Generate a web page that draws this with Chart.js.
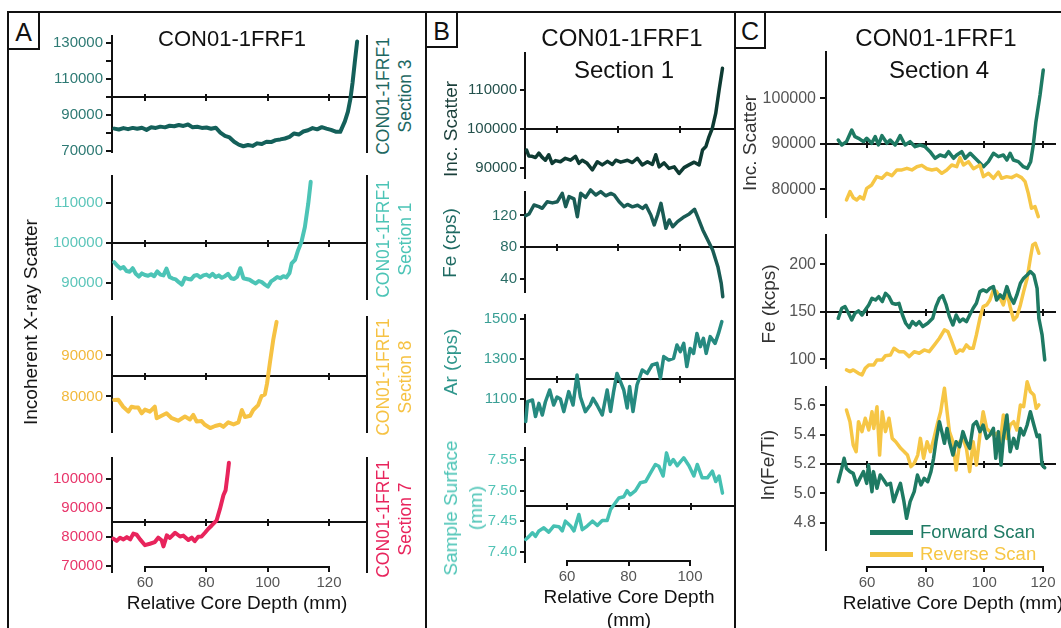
<!DOCTYPE html>
<html><head><meta charset="utf-8">
<script src="https://cdn.jsdelivr.net/npm/chart.js@4.4.1/dist/chart.umd.min.js"></script>
<style>
html,body{margin:0;padding:0;background:#fff;}
body{width:1061px;height:628px;overflow:hidden;position:relative;font-family:"Liberation Sans",Arial,Helvetica,sans-serif;}
.t{position:absolute;white-space:nowrap;text-align:center;}
.ln{position:absolute;background:#111;}
.box{position:absolute;box-sizing:border-box;border:2px solid #111;background:#fff;}
</style></head><body>
<script>
// ---------------- DATA ----------------
// Panel A : Incoherent X-ray scatter, four sections
const A_sec3_depth = [50,51.5,53,54.5,56,57.5,59,60.5,62,63.5,65,66.5,68,69.5,71,72.5,74,75.5,77,78.5,80,81.5,83,84.5,86,87.5,89,90.5,92,93.5,95,96.5,98,99.5,101,102.5,104,105.5,107,108.5,110,111.5,113,114.5,116,117.5,119,120.5,122,123.5,125,126,126.8,127.5,128.2,129];
const A_sec3_scatter = [82500,82000,82800,82200,82900,82400,83000,81800,83200,82900,83600,83200,84100,83800,84500,84000,84800,83200,83500,82900,83100,82400,83000,80300,78500,77600,75200,73600,72700,73400,72900,74300,73900,75200,75000,76100,76500,77000,77900,79800,79200,80900,81600,82800,82100,83300,82500,81800,80800,80700,86500,92000,99000,108000,119000,131000];

const A_sec1_depth = [50,51,52,53,54,55,56,57,58,59,60,61,62,63,64,65,66,67,68,69,70,71,72,73,74,75,76,77,78,79,80,81,82,83,84,85,86,87,88,89,90,91,92,93,94,95,96,97,98,99,100,101,102,103,104,105,106,107,107.7,108.8,109.8,110.9,112,113.1,113.9];
const A_sec1_scatter = [95200,94300,93600,94000,93000,92800,93700,92300,91600,92400,92000,91800,92200,91700,92900,92100,91900,93600,91500,91100,90900,90200,89600,91300,91000,90900,91800,92000,91400,91900,92100,91600,92300,91500,91900,91300,91700,92300,91200,91000,91600,93700,91200,91000,90800,90300,89900,90500,90200,89600,89100,90400,90900,91500,91200,91700,91400,92500,94900,95800,98200,100300,104000,109900,115300];

const A_sec8_depth = [50,51.3,52.9,54.6,55.6,56.7,57.8,58.9,60,61.6,63.2,63.8,65.4,67,68.7,70.8,73,74.6,75.7,76.8,78.4,79.5,81.2,82.8,84.4,85.5,87.1,88.8,90.4,91.5,92.5,94.2,95.2,96.8,97.9,99,99.7,100.6,101.7,102.8];
const A_sec8_scatter = [79150,79200,77500,76300,77500,77300,77300,75900,76800,76300,77500,74700,75300,75900,74700,74100,75100,74400,75500,73900,74000,73100,72300,72800,73100,72600,73700,73200,73700,76700,75000,75300,76700,77900,80100,80500,83200,88100,93800,98200];

const A_sec7_depth = [49.7,50.8,51.9,53,54.1,55.2,56.2,57.3,58.4,60,61.6,63.2,64.3,65.4,66,67.1,68.1,69.8,71.4,72.5,74.1,75.2,76.2,77.3,78.4,79.5,80.6,81.7,83.3,84.4,85.5,86.2,86.9,87.3];
const A_sec7_scatter = [79300,78500,79600,79000,79800,79000,81000,80600,79000,77000,77500,78100,79600,78700,76600,80400,79500,81300,80000,80300,78800,79600,78400,79900,80000,81300,82700,83800,85600,89600,94200,95900,101700,105400];

// Panel B : Section 1, four variables
const B_scatter_depth = [46.7,47.4,48.5,49.6,50.7,51.7,52.8,53.9,55,56.1,57.7,59.3,61,62.6,63.7,64.8,66.4,68.1,69.7,71.3,73,74.6,75.7,77.3,79.5,81.1,82.7,84.3,86,87.6,88.7,89.8,91.4,93,94.7,96.3,97.9,99.5,101.2,102.8,103.9,105,106,107.1,108.2,109.3,110.4];
const B_scatter = [94600,93100,93000,92700,93800,92800,92000,93400,91200,91900,91600,92500,92000,93000,91200,92000,91200,89500,91600,90800,91700,90900,92000,91500,92000,91400,92500,90800,91600,90900,93400,90300,91300,89900,90300,88600,90100,90800,91500,90800,94600,95500,98000,100200,104000,110000,115600];

const B_fe_depth = [46.4,47.5,49.1,50.7,51.8,53.4,55.1,56.7,58.3,59.4,60.5,62.1,63.2,64.3,65.9,67.5,69.2,70.8,72.4,74.1,75.2,76.8,78.4,79.5,81.1,82.8,84.4,85.5,87.1,88.2,89.3,90.4,92,93.1,94.2,95.8,98,99.6,101.3,102.3,104,105.6,107.2,108.9,110,110.5];
const B_fe = [119.8,121.9,133.3,131.2,129.1,137.5,136,137.5,148.1,131.2,143.9,141,118.5,148.1,143,152.4,146,150.3,145,148,146,137.5,131.2,134,131,133,129,133,120.6,108,120.6,135.4,103.7,114.3,105.8,112.2,118.5,122,127.9,118.5,101.6,88.9,76.2,55,33.9,16.9];

const B_ar_depth = [46.4,47,48.6,49.6,50.7,51.8,52.8,54.2,55.5,56.6,57.7,58.8,60.4,61.8,63.1,64.2,65.8,67.4,68.3,69.6,71.3,72.9,74,75,76.1,77.2,78.3,79.4,80.2,81.3,82.6,84.3,85.9,87.5,89.1,90.2,91.3,92.9,94.5,95.6,96.7,97.8,98.8,99.9,101,102.1,103.2,104.2,105.1,106.4,108,109.1,110.2];
const B_ar = [987,1087,1095,1012,1078,1020,1085,1145,1070,1110,1100,1037,1137,1070,1220,1110,1037,1070,1103,1070,1020,1145,1037,1137,1228,1188,1145,1055,1162,1037,1170,1245,1228,1270,1278,1203,1312,1295,1303,1370,1337,1378,1262,1353,1328,1428,1362,1403,1328,1412,1378,1428,1487];

const B_surf_depth = [46.4,47.5,48.6,49.6,50.7,52.3,53.9,55.5,57.2,58.3,59.3,61,62.1,63.7,64.8,66.4,68.1,69.7,71.3,72.9,74,75.1,76.7,78.3,79.4,80.4,82.1,83.7,85.4,87,88.6,89.7,91.1,92.2,93.3,94.4,95.7,97.8,99.5,101.1,102.2,103.8,105.5,107.1,108.2,109.3,110.4];
const B_surf = [7.420,7.425,7.431,7.425,7.434,7.439,7.432,7.442,7.441,7.434,7.450,7.442,7.434,7.461,7.436,7.442,7.450,7.443,7.451,7.451,7.469,7.477,7.488,7.490,7.500,7.493,7.500,7.513,7.515,7.529,7.543,7.540,7.524,7.562,7.543,7.551,7.541,7.554,7.541,7.524,7.543,7.521,7.521,7.532,7.515,7.524,7.496];

// Panel C : Section 4, forward vs reverse scan
const C_scatter_fwd_depth = [50.2,51.4,53,54.8,55.9,57.1,58.8,59.9,61.6,62.8,63.9,65.1,66.8,67.9,69.6,71.3,73,74.7,76.4,78.1,79.8,81.5,83.2,84.9,86.6,87.8,89.5,90.6,92.3,93.5,95.2,96.9,98.6,99.7,101.4,103.1,104.8,106.5,107.7,108.8,109.9,111.6,113.3,114.7,115.8,116.7,117.6,119,120.1];
const C_scatter_fwd = [90880,89780,90510,93080,91610,91250,90510,91250,90150,91610,89780,91830,90150,90880,89780,91830,89780,90510,89410,89780,89410,88310,86850,87580,87220,88310,86850,87580,88310,86850,87950,86850,85750,85020,86120,87950,87220,87580,86480,87950,86480,86120,85020,84650,86120,89780,94910,100770,106270];
const C_scatter_rev_depth = [53,54.2,55.3,56.5,57.6,58.8,59.9,61.6,63.3,65.1,66.8,68.5,70.2,71.9,73.6,75.3,77,78.7,80.4,82.1,83.8,85.5,87.2,88.9,90.6,91.7,92.9,94.6,96.3,98.5,99.7,101.4,103.1,104.8,105.9,107.6,109.3,111,112.7,113.9,115,116.1,117.3,118.4];
const C_scatter_rev = [77690,79520,78200,77690,78420,77910,80250,80990,82820,82450,83550,83040,84290,84290,84650,84290,85000,85300,84560,84290,84510,83550,84290,85380,85020,86990,85380,86120,84560,85380,82820,83550,82450,83840,82450,82820,82600,83190,82600,81720,79150,75870,76220,74030];

const C_fe_fwd_depth = [50.2,51.4,52.5,53.7,54.8,55.9,57.1,58.3,59.4,60.6,61.7,62.9,64,65.2,66.3,67.5,68.6,69.8,70.9,72.1,73.2,74.4,75.5,76.7,77.8,79,80.7,82.4,83.5,84.7,85.8,87,88.1,89.3,90.4,91.6,92.7,93.9,95,96.2,97.3,98.5,99.6,100.8,101.9,103.1,104.2,105.4,106.5,107.7,108.8,110,111.1,112.3,113.4,114.6,115.7,116.9,118,118.6,119.7,120.6];
const C_fe_fwd = [143.3,153.9,155.6,148.6,141.6,148.6,151.1,146.8,152.1,157.4,164.4,162.6,166.1,160.9,169.6,166.1,159.1,158.1,159.1,146.8,138.1,133.5,139.8,136.3,139.8,134.6,138.1,143.3,155.6,164.4,167.2,157.4,145.1,136.3,146.8,139.8,142.6,139.8,146.8,153.9,159.1,171.4,173.2,171.4,174.9,176.7,162.6,167.9,164.4,176.7,166.1,159.1,167.9,180.2,185.4,188.9,192.5,188.9,174.9,143.3,125.8,99.5];
const C_fe_rev_depth = [53,54.2,55.3,57.1,58.3,59.4,60.6,62.3,63.4,65.2,66.3,68,69.2,70.9,72.6,74.4,76.1,77.8,79.5,81.2,83,84.7,86.4,87.6,88.7,90.4,91.6,92.7,93.9,95,96.2,97.3,98.5,99.6,100.8,101.9,103.1,104.2,105.4,106.5,107.7,108.8,110,111.1,112.3,113.4,114.6,115.7,116.5,117.4,118.6];
const C_fe_rev = [89.0,87.2,89.0,85.4,83.7,90.7,94.2,94.2,99.5,99.5,104.0,104.7,111.8,108.2,108.2,103.0,108.2,106.5,110.0,108.2,115.3,122.3,131.1,129.3,120.5,106.5,110.0,108.9,115.3,111.8,111.8,125.8,143.3,155.6,157.4,162.6,173.2,171.4,164.4,157.4,171.4,155.6,141.6,145.1,157.4,171.4,185.4,206.5,220.5,222.3,211.8];

const C_ratio_fwd_depth = [50.2,51.4,52.2,53,54.2,55.3,56.5,57.6,58.8,59.9,60.5,61.7,62.2,63.4,64.5,65.7,66.8,68,69.1,70.3,71.4,72.6,73.5,74.7,76.1,77.2,78.4,79.5,80.7,81.8,82.7,83.5,84.7,85.5,86.4,87.3,88.1,89.3,90.4,91.6,92.7,93.9,95,96.2,97.3,98.5,99.6,100.8,101.9,103.1,103.9,104.8,105.7,106.5,107.7,108.8,110,111.1,112.3,113.4,114.6,115.7,116.9,118,118.8,119.7,120.6];
const C_ratio_fwd = [5.079,5.170,5.239,5.170,5.148,5.136,5.057,5.102,5.148,5.068,5.193,5.011,5.148,5.034,5.125,5.091,5.057,5.068,4.943,5.011,5.068,4.943,4.829,4.943,5.011,5.125,5.057,5.102,5.079,5.148,5.239,5.352,5.489,5.421,5.341,5.443,5.352,5.261,5.352,5.318,5.421,5.352,5.307,5.466,5.489,5.421,5.466,5.375,5.398,5.443,5.239,5.421,5.193,5.375,5.534,5.284,5.375,5.307,5.443,5.398,5.466,5.557,5.466,5.387,5.398,5.193,5.175];
const C_ratio_rev_depth = [53,54.2,55.3,56.3,57.1,58.3,59.4,60.6,61.7,62.3,63.4,64.3,65.2,66.3,67.5,68.6,69.8,71.5,72.7,73.8,75,76.1,77.3,78.2,79.3,80.5,81.6,82.8,83.9,85.1,86.4,87.3,88.1,89.3,90.4,91.6,92.7,93.9,95,96.2,97.3,98.5,99.6,100.8,101.9,103.1,104.2,105.4,106.5,107.7,108.8,110,111.1,112.3,113.4,114.6,115.7,116.9,117.7,118.6];
const C_ratio_rev = [5.569,5.489,5.330,5.284,5.489,5.421,5.512,5.432,5.557,5.443,5.591,5.261,5.557,5.421,5.512,5.375,5.352,5.307,5.284,5.261,5.182,5.205,5.261,5.375,5.239,5.352,5.284,5.375,5.466,5.557,5.717,5.557,5.421,5.352,5.159,5.352,5.375,5.307,5.148,5.352,5.193,5.398,5.557,5.443,5.421,5.398,5.409,5.341,5.534,5.375,5.466,5.489,5.432,5.603,5.591,5.762,5.694,5.671,5.580,5.603];

// tick values
const A_depth_ticks = [60,80,100,120];
const B_depth_ticks = [60,80,100];
const B_upper_marks = [56.5,76.5,96.6];
const C_depth_ticks = [60,80,100,120];

// ---------------- HELPERS ----------------
Chart.defaults.font.family = '"Liberation Sans", Arial, Helvetica, sans-serif';
const pts = (xs, ys) => xs.map((x, i) => ({x: x, y: ys[i]}));
const plain = v => String(v);

function line(x, y, w, h){ const d=document.createElement('div'); d.className='ln'; d.style.cssText+=`left:${x}px;top:${y}px;width:${w}px;height:${h}px`; document.body.appendChild(d); }
function box(x, y, w, h, letter){ const d=document.createElement('div'); d.className='box'; d.style.cssText+=`left:${x}px;top:${y}px;width:${w}px;height:${h}px`; document.body.appendChild(d); txt(letter, x+w/2, y+h/2+1, 25, '#111'); }
function txt(html, cx, cy, size, color, rot, lh){
  const d=document.createElement('div'); d.className='t'; d.innerHTML=html;
  d.style.cssText+=`left:${cx}px;top:${cy}px;font-size:${size}px;color:${color};line-height:${lh||Math.round(size*1.15)}px;transform:translate(-50%,-50%)${rot?` rotate(${rot}deg)`:''}`;
  document.body.appendChild(d);
}

function subplot(o){
  const LW=95, PT=16, PB=16, RW=3;
  const w = LW + (o.rx - o.ax) + RW, h = (o.bot - o.top) + PT + PB;
  const perPx = (o.ymax - o.ymin) / (o.bot - o.top);
  const c = document.createElement('canvas');
  c.width=w; c.height=h;
  c.style.cssText=`position:absolute;left:${o.ax-LW}px;top:${o.top-PT}px;width:${w}px;height:${h}px`;
  document.body.appendChild(c);
  new Chart(c, {
    type:'line',
    data:{datasets:o.series.map(s=>({data:pts(s.x,s.y), borderColor:s.color, borderWidth:s.w||3.5, pointRadius:0, tension:0, fill:false, clip:false, borderJoinStyle:'round', borderCapStyle:'round'}))},
    options:{
      responsive:false, animation:false, events:[],
      layout:{padding:{left:0,right:RW,top:PT,bottom:PB}},
      plugins:{legend:{display:false}, tooltip:{enabled:false}},
      scales:{
        // the reference line (axis) across the panel
        x:{type:'linear', min:o.xmin, max:o.xmax, position:{y:o.hline},
           ticks:{display:false}, grid:{display:false},
           border:{display:true, color:'#111', width:2}},
        // tick marks crossing that line
        xt:{type:'linear', axis:'x', min:o.xmin, max:o.xmax, position:{y:o.hline + 3*perPx},
           afterBuildTicks:s=>{s.ticks=o.hTicks.map(v=>({value:v}));},
           ticks:{display:false, autoSkip:false},
           grid:{drawOnChartArea:false, drawTicks:true, tickLength:7, color:'#111', lineWidth:2},
           border:{display:false}},
        y:{type:'linear', position:'left', min:o.ymin, max:o.ymax,
           afterBuildTicks:s=>{s.ticks=o.yTicks.map(v=>({value:v}));},
           afterFit:s=>{s.width=LW;},
           ticks:{autoSkip:false, color:o.tickColor, padding:o.tickPad, font:{size:o.fs}, callback:v=>o.yLabels.includes(v)?o.fmt(v):''},
           grid:{drawOnChartArea:false, drawTicks:true, tickLength:o.tickLen, color:'#111', lineWidth:2},
           border:{display:true, color:'#111', width:2}},
        yr:{type:'linear', position:'right', display:!!o.rightLine, min:o.ymin, max:o.ymax,
           afterFit:s=>{s.width=0;},
           ticks:{display:false}, grid:{display:false},
           border:{display:true, color:'#111', width:2}}
      }
    }
  });
}

function bottomAxis(o){
  const P=30, H=26, T=6;
  const w=(o.x1-o.x0)+2*P, h=T+H;
  const c=document.createElement('canvas');
  c.width=w; c.height=h;
  c.style.cssText=`position:absolute;left:${o.x0-P}px;top:${o.y-T}px;width:${w}px;height:${h}px`;
  document.body.appendChild(c);
  new Chart(c,{type:'line', data:{datasets:[]}, options:{
    responsive:false, animation:false, events:[],
    layout:{padding:{left:P,right:P,top:0,bottom:0}},
    plugins:{legend:{display:false}, tooltip:{enabled:false}},
    scales:{
      x:{type:'linear', position:'bottom', min:o.min, max:o.max,
         afterBuildTicks:s=>{s.ticks=o.ticks.map(v=>({value:v}));},
         afterFit:s=>{s.height=H;},
         ticks:{color:'#555', font:{size:15}, padding:2, autoSkip:false, maxRotation:0, callback:plain},
         grid:{drawOnChartArea:false, drawTicks:true, tickLength:5, color:'#111', lineWidth:2},
         border:{display:true, color:'#111', width:2}},
      y:{display:false}
    }}});
}

// ---------------- FRAME ----------------
line(7,11,1054,2); line(7,11,2,617); line(425,11,2,617); line(734,11,2,617);
box(7,11,33,39,'A'); box(425,11,33,37,'B'); box(734,11,32,38,'C');

// ---------------- PANEL A ----------------
const A = {ax:112, rx:367, xmin:49.27, xmax:132.2, hTicks:A_depth_ticks, rightLine:true, fmt:plain, fs:15, tickPad:3, tickLen:6};
subplot(Object.assign({}, A, {top:36, bot:152, ymin:69500, ymax:134000, hline:100000,
  yTicks:[70000,80000,90000,100000,110000,120000,130000], yLabels:[70000,90000,110000,130000], tickColor:'#2e7a74',
  series:[{x:A_sec3_depth, y:A_sec3_scatter, color:'#14605a', w:4}]}));
subplot(Object.assign({}, A, {top:176, bot:299, ymin:86000, ymax:116750, hline:100000,
  yTicks:[90000,100000,110000], yLabels:[90000,100000,110000], tickColor:'#5cc6ba',
  series:[{x:A_sec1_depth, y:A_sec1_scatter, color:'#4cc4b6', w:4}]}));
subplot(Object.assign({}, A, {top:317, bot:432, ymin:71340, ymax:99390, hline:85000,
  yTicks:[80000,90000], yLabels:[80000,90000], tickColor:'#f2b93c',
  series:[{x:A_sec8_depth, y:A_sec8_scatter, color:'#f6c243', w:4}]}));
subplot(Object.assign({}, A, {top:458, bot:572, ymin:67760, ymax:107070, hline:85000,
  yTicks:[70000,80000,90000,100000], yLabels:[70000,80000,90000,100000], tickColor:'#e8356a',
  series:[{x:A_sec7_depth, y:A_sec7_scatter, color:'#e8245c', w:4}]}));
bottomAxis({x0:145, x1:329, y:567, min:60, max:120, ticks:A_depth_ticks});

txt('CON01-1FRF1', 232, 38, 22, '#111');
txt('Incoherent X-ray Scatter', 31, 322, 19, '#111', -90);
txt('CON01-1FRF1<br>Section 3', 394, 96, 17.5, '#1d6761', -90, 22);
txt('CON01-1FRF1<br>Section 1', 394, 239, 17.5, '#4cc4b6', -90, 22);
txt('CON01-1FRF1<br>Section 8', 394, 377, 17.5, '#f6c243', -90, 22);
txt('CON01-1FRF1<br>Section 7', 394, 519, 17.5, '#e8245c', -90, 22);
txt('Relative Core Depth (mm)', 237, 603, 19, '#111');

// ---------------- PANEL B ----------------
const B = {ax:525, rx:735, xmin:46.18, xmax:114.47, rightLine:false, fs:15, tickPad:3, tickLen:5};
subplot(Object.assign({}, B, {top:53, bot:178, ymin:87440, ymax:119490, hline:100000, hTicks:B_upper_marks,
  yTicks:[90000,100000,110000], yLabels:[90000,100000,110000], fmt:plain, tickColor:'#24514c',
  series:[{x:B_scatter_depth, y:B_scatter, color:'#0e3b33'}]}));
subplot(Object.assign({}, B, {top:192, bot:292, ymin:22.9, ymax:149.8, hline:80, hTicks:B_upper_marks,
  yTicks:[40,80,120], yLabels:[40,80,120], fmt:plain, tickColor:'#2a6d66',
  series:[{x:B_fe_depth, y:B_fe, color:'#1a5c55'}]}));
subplot(Object.assign({}, B, {top:315, bot:432, ymin:935, ymax:1520, hline:1200, hTicks:B_upper_marks,
  yTicks:[1100,1300,1500], yLabels:[1100,1300,1500], fmt:plain, tickColor:'#3a9f95',
  series:[{x:B_ar_depth, y:B_ar, color:'#268a80'}]}));
subplot(Object.assign({}, B, {top:448, bot:562, ymin:7.383, ymax:7.570, hline:7.475, hTicks:B_depth_ticks,
  yTicks:[7.40,7.45,7.50,7.55], yLabels:[7.40,7.45,7.50,7.55], fmt:v=>v.toFixed(2), tickColor:'#52c3b6',
  series:[{x:B_surf_depth, y:B_surf, color:'#45c0b2'}]}));
bottomAxis({x0:567, x1:690, y:561, min:60, max:100, ticks:B_depth_ticks});

txt('CON01-1FRF1', 622, 38, 24, '#111');
txt('Section 1', 624, 70, 24, '#111');
txt('Inc. Scatter', 451, 129, 19, '#1a3f3a', -90);
txt('Fe (cps)', 450, 243, 19, '#1e6a62', -90);
txt('Ar (cps)', 451, 362, 19, '#2f968c', -90);
txt('Sample Surface<br>(mm)', 463, 508, 19, '#4cc4b6', -90, 25);
txt('Relative Core Depth<br>(mm)', 629, 608, 19, '#111', 0, 23);

// ---------------- PANEL C ----------------
const FWD='#1e7a63', REV='#f6c645';
const C = {ax:826, rx:1055, xmin:46.02, xmax:124.1, hTicks:C_depth_ticks, rightLine:false, fs:16, tickPad:4, tickLen:6, tickColor:'#555'};
subplot(Object.assign({}, C, {top:52, bot:217, ymin:73950, ymax:110220, hline:90000,
  yTicks:[80000,90000,100000], yLabels:[80000,90000,100000], fmt:plain,
  series:[{x:C_scatter_rev_depth, y:C_scatter_rev, color:REV},{x:C_scatter_fwd_depth, y:C_scatter_fwd, color:FWD}]}));
subplot(Object.assign({}, C, {top:235, bot:368, ymin:91, ymax:231, hline:150,
  yTicks:[100,150,200], yLabels:[100,150,200], fmt:plain,
  series:[{x:C_fe_fwd_depth, y:C_fe_fwd, color:FWD},{x:C_fe_rev_depth, y:C_fe_rev, color:REV}]}));
subplot(Object.assign({}, C, {top:387, bot:550, ymin:4.613, ymax:5.7256, hline:5.2,
  yTicks:[4.8,5.0,5.2,5.4,5.6], yLabels:[4.8,5.0,5.2,5.4,5.6], fmt:v=>v.toFixed(1),
  series:[{x:C_ratio_fwd_depth, y:C_ratio_fwd, color:FWD},{x:C_ratio_rev_depth, y:C_ratio_rev, color:REV}]}));
bottomAxis({x0:867, x1:1043, y:567, min:60, max:120, ticks:C_depth_ticks});

txt('CON01-1FRF1', 936, 38, 24, '#111');
txt('Section 4', 939, 70, 24, '#111');
txt('Inc. Scatter', 750, 143, 19, '#333', -90);
txt('Fe (kcps)', 769, 304, 19, '#333', -90);
txt('ln(Fe/Ti)', 768, 465, 19, '#333', -90);
txt('Relative Core Depth (mm)', 953, 603, 19, '#111');
// legend
(function(){
  const s1=document.createElement('div'); s1.style.cssText=`position:absolute;left:870px;top:530px;width:43px;height:5px;background:${FWD}`; document.body.appendChild(s1);
  const s2=document.createElement('div'); s2.style.cssText=`position:absolute;left:870px;top:552px;width:43px;height:5px;background:${REV}`; document.body.appendChild(s2);
  const t1=document.createElement('div'); t1.className='t'; t1.textContent='Forward Scan'; t1.style.cssText+=`left:920px;top:521px;font-size:18.5px;line-height:22px;color:${FWD};text-align:left`; document.body.appendChild(t1);
  const t2=document.createElement('div'); t2.className='t'; t2.textContent='Reverse Scan'; t2.style.cssText+=`left:920px;top:543px;font-size:18.5px;line-height:22px;color:${REV};text-align:left`; document.body.appendChild(t2);
})();
</script>
</body></html>
